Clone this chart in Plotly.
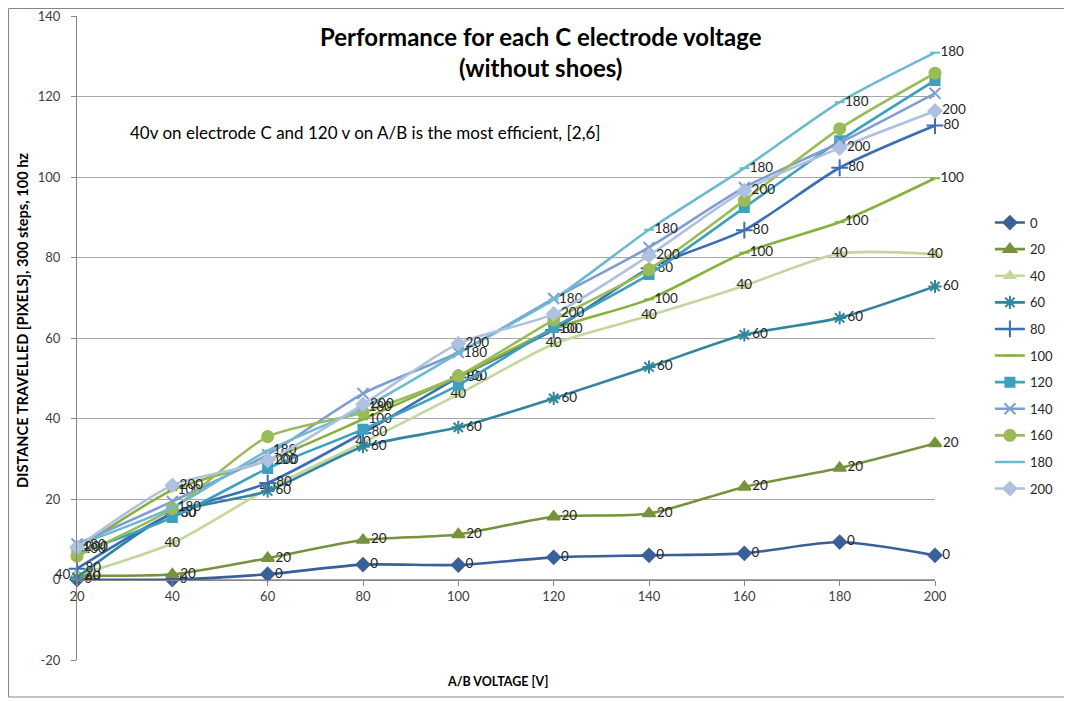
import plotly.graph_objects as go

# ---------------- data ----------------
ab_voltage = [20, 40, 60, 80, 100, 120, 140, 160, 180, 200]
y_ticks = [-20, 0, 20, 40, 60, 80, 100, 120, 140]
series_names = ["0", "20", "40", "60", "80", "100", "120", "140", "160", "180", "200"]

c_0 = [0.0, 0.0, 1.3, 3.7, 3.6, 5.5, 6.0, 6.5, 9.3, 6.0]
c_20 = [1.0, 1.3, 5.3, 9.8, 11.2, 15.6, 16.4, 23.0, 27.7, 33.8]
c_40 = [1.0, 9.0, 22.5, 34.0, 46.0, 58.5, 65.5, 73.0, 81.0, 80.8]
c_60 = [0.5, 16.4, 22.0, 33.0, 37.8, 45.0, 52.8, 60.8, 65.0, 72.8]
c_80 = [2.7, 16.4, 24.0, 36.4, 50.2, 62.0, 77.3, 86.8, 102.3, 112.8]
c_100 = [7.5, 22.2, 29.6, 39.8, 50.4, 62.2, 69.6, 81.2, 88.8, 99.7]
c_120 = [6.5, 15.4, 27.6, 37.3, 48.3, 62.6, 75.8, 92.4, 109.0, 124.0]
c_140 = [8.8, 19.4, 31.0, 46.2, 56.4, 69.8, 82.5, 97.4, 108.5, 120.8]
c_160 = [5.8, 17.6, 35.5, 41.5, 50.6, 64.5, 77.0, 94.2, 112.0, 125.8]
c_180 = [8.5, 17.9, 32.0, 42.6, 56.2, 69.6, 86.9, 102.2, 118.6, 130.9]
c_200 = [8.0, 23.4, 29.6, 43.5, 58.6, 66.0, 80.5, 96.6, 107.2, 116.4]

series_values = [c_0, c_20, c_40, c_60, c_80, c_100, c_120, c_140, c_160, c_180, c_200]
labelled = ["0", "20", "40", "60", "80", "100", "180", "200"]

title_line1 = "Performance for each C electrode voltage"
title_line2 = "(without shoes)"
note_text = "40v on electrode C and 120 v on A/B is the most efficient, [2,6]"
y_title = "DISTANCE TRAVELLED [PIXELS], 300 steps, 100 hz"
x_title = "A/B VOLTAGE [V]"

# ---------------- styles ----------------
styles = {
    "0":   dict(color="#3A6099", symbol="diamond", size=10),
    "20":  dict(color="#76923C", symbol="triangle-up", size=11),
    "40":  dict(color="#C4D79B", symbol="triangle-up", size=9),
    "60":  dict(color="#31859C", symbol="asterisk-open", size=11),
    "80":  dict(color="#3C6EB4", symbol="cross-thin-open", size=12),
    "100": dict(color="#88B03C", symbol="line-ew-open", size=7),
    "120": dict(color="#3DA0BC", symbol="square", size=9),
    "140": dict(color="#7F9DD0", symbol="x-thin-open", size=11),
    "160": dict(color="#9BBB59", symbol="circle", size=11),
    "180": dict(color="#6CBAD2", symbol="line-ew-open", size=7),
    "200": dict(color="#AFC1E0", symbol="diamond", size=10),
}

FONT = "Lato"
# page is drawn with an 8px body offset; geometry is expressed in page pixels
OFF = 8
W, H = 1072 - OFF, 701 - OFF
PL, PR, PT, PB = 77, 935, 16, 660          # plot area in page pixels
PW, PH = PR - PL, PB - PT


def px(xp):
    return (xp - PL) / PW


def py(yp):
    return (PB - yp) / PH


fig = go.Figure()

for name, vals in zip(series_names, series_values):
    st = styles[name]
    has_text = name in labelled
    if name == "40":
        tpos = ["middle left"] + ["middle center"] * (len(vals) - 1)
    else:
        tpos = "middle right"
    fig.add_trace(go.Scatter(
        x=ab_voltage, y=vals, name=name,
        mode="lines+markers+text" if has_text else "lines+markers",
        text=[name] * len(vals) if has_text else None,
        textposition=tpos,
        textfont=dict(family=FONT, size=13.5, color="#262626"),
        line=dict(color=st["color"], width=2.6, shape="spline", smoothing=0.7),
        marker=dict(symbol=st["symbol"], size=st["size"], color=st["color"],
                    line=dict(color=st["color"], width=2)),
        legendgroup="g" + name,
        cliponaxis=False,
    ))

fig.update_layout(
    width=W, height=H,
    margin=dict(l=PL - OFF, r=W - (PR - OFF), t=PT - OFF, b=H - (PB - OFF), autoexpand=False),
    paper_bgcolor="white", plot_bgcolor="white",
    font=dict(family=FONT, size=13, color="#404040"),
    showlegend=True,
    legend=dict(x=1.064, y=0.7025, xanchor="left", yanchor="top",
                font=dict(family=FONT, size=13, color="#262626"),
                tracegroupgap=6.7, traceorder="grouped",
                bgcolor="rgba(0,0,0,0)"),
    xaxis=dict(
        range=[20, 200], tickmode="array", tickvals=ab_voltage,
        ticktext=[str(v) for v in ab_voltage],
        showgrid=False, zeroline=False, automargin=False,
        showline=True, linecolor="#868686", linewidth=1,
        ticks="outside", ticklen=5, tickcolor="#868686",
        anchor="free", position=0.125,
        ticklabeloverflow="allow",
        tickfont=dict(family=FONT, size=13, color="#404040"),
    ),
    yaxis=dict(
        range=[-20, 140], tickmode="array", tickvals=y_ticks,
        ticktext=[str(v) for v in y_ticks],
        showgrid=True, gridcolor="#A6A6A6", gridwidth=1,
        zeroline=False, automargin=False,
        showline=True, linecolor="#868686", linewidth=1,
        ticks="outside", ticklen=5, tickcolor="#868686",
        ticklabelstandoff=8, ticklabeloverflow="allow",
        tickfont=dict(family=FONT, size=13, color="#404040"),
    ),
    annotations=[
        dict(text="<b>" + title_line1 + "<br>" + title_line2 + "</b>",
             xref="paper", yref="paper", x=px(541), y=py(52.5), xanchor="center", yanchor="middle",
             showarrow=False, font=dict(family=FONT, size=24, color="#000000"), align="center"),
        dict(text=note_text, xref="paper", yref="paper", x=px(128), y=py(132),
             xanchor="left", yanchor="middle", showarrow=False,
             font=dict(family=FONT, size=17, color="#000000")),
        dict(text="<b>" + y_title + "</b>", xref="paper", yref="paper",
             x=px(22), y=py(321), xanchor="center", yanchor="middle",
             textangle=-90, showarrow=False,
             font=dict(family=FONT, size=14.6, color="#000000")),
        dict(text="<b>" + x_title + "</b>", xref="paper", yref="paper",
             x=px(497), y=py(682), xanchor="center", yanchor="middle",
             showarrow=False, font=dict(family=FONT, size=12.5, color="#000000")),
    ],
    shapes=[
        dict(type="rect", xref="paper", yref="paper",
             x0=px(OFF + 0.5), x1=px(1067),
             y0=py(697), y1=py(OFF + 0.5),
             line=dict(color="#868686", width=1), fillcolor="rgba(0,0,0,0)", layer="below"),
    ],
)

fig.write_html("out.html")
